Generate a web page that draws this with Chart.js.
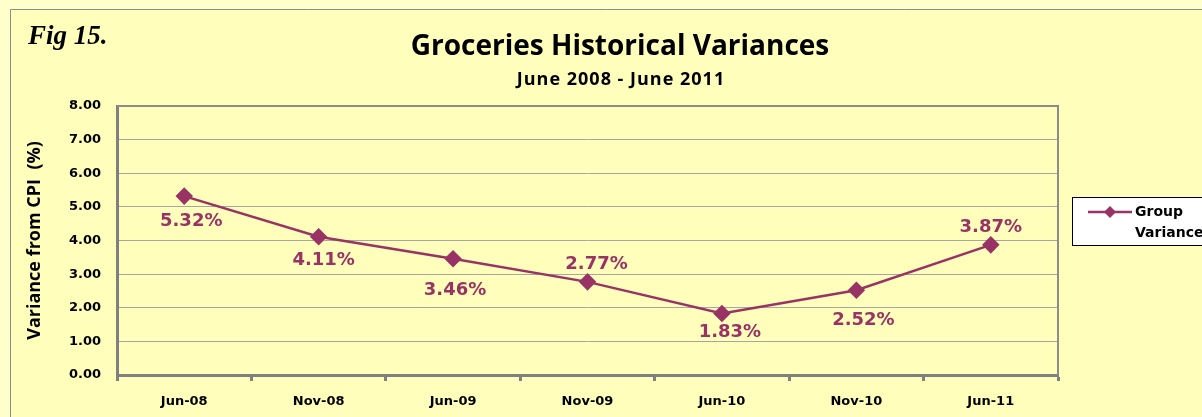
<!DOCTYPE html>
<html lang="en">
<head>
  <meta charset="UTF-8" />
  <title>Groceries Historical Variances</title>
  <style>
    html, body { margin: 0; padding: 0; background: #ffffcc; }
    .wrap { width: 1202px; height: 417px; position: relative; }
  </style>
</head>
<body>
  <div class="wrap">
    <canvas id="chart" width="1202" height="417"></canvas>
  </div>

  <script src="https://cdn.jsdelivr.net/npm/chart.js"></script>
  <script>
    // data
    const categories = ['Jun-08', 'Nov-08', 'Jun-09', 'Nov-09', 'Jun-10', 'Nov-10', 'Jun-11'];
    const variance = [5.32, 4.11, 3.46, 2.77, 1.83, 2.52, 3.87];
    const yTicks = [0, 1, 2, 3, 4, 5, 6, 7, 8];

    // where each % label sits relative to its point (px)
    const labelDx = [7, 5, 2, 9, 8, 7, 0];
    const labelDy = [25, 24, 32, -18, 19, 30, -18];

    const plum = '#993366';
    const headFont = '"Open Sans", sans-serif';
    const bodyFont = '"DejaVu Sans", Verdana, sans-serif';

    const decor = {
      id: 'decor',
      beforeDraw(chart) {
        const c = chart.ctx;
        c.save();
        c.fillStyle = '#ffffcc';
        c.fillRect(0, 0, chart.width, chart.height);
        c.fillStyle = '#ffffbb';
        c.fillRect(10, 9, chart.width, chart.height);
        c.strokeStyle = '#8c8c8c';
        c.lineWidth = 1;
        c.beginPath();
        c.moveTo(10.5, chart.height);
        c.lineTo(10.5, 9.5);
        c.lineTo(chart.width, 9.5);
        c.stroke();
        c.restore();
      },
      afterDraw(chart) {
        const c = chart.ctx;
        const a = chart.chartArea;
        c.save();
        // top / right plot border
        c.strokeStyle = '#8c8c8c';
        c.lineWidth = 2;
        c.beginPath();
        c.moveTo(a.left, a.top);
        c.lineTo(a.right, a.top);
        c.lineTo(a.right, a.bottom);
        c.stroke();

        // fig number
        c.fillStyle = '#000';
        c.font = 'italic bold 27px "Liberation Serif", serif';
        c.textBaseline = 'alphabetic';
        c.textAlign = 'left';
        c.fillText('Fig 15.', 28, 44);

        // titles
        c.textAlign = 'center';
        c.font = 'bold 28px ' + headFont;
        c.fillText('Groceries Historical Variances', 620, 55);
        c.font = 'bold 18px ' + headFont;
        c.letterSpacing = '1px';
        c.fillText('June 2008 - June 2011', 621, 85);
        c.letterSpacing = '0px';

        // value labels
        const meta = chart.getDatasetMeta(0);
        c.fillStyle = plum;
        c.font = 'bold 18px ' + bodyFont;
        c.textBaseline = 'middle';
        meta.data.forEach((pt, i) => {
          c.fillText(variance[i].toFixed(2) + '%', pt.x + labelDx[i], pt.y + labelDy[i]);
        });

        // legend box
        c.fillStyle = '#ffffff';
        c.fillRect(1072, 197, 140, 48);
        c.strokeStyle = '#000';
        c.lineWidth = 1;
        c.strokeRect(1072.5, 197.5, 140, 48);
        c.strokeStyle = plum;
        c.lineWidth = 2.5;
        c.beginPath();
        c.moveTo(1088, 212);
        c.lineTo(1132, 212);
        c.stroke();
        c.fillStyle = plum;
        c.beginPath();
        c.moveTo(1110, 206);
        c.lineTo(1116, 212);
        c.lineTo(1110, 218);
        c.lineTo(1104, 212);
        c.closePath();
        c.fill();
        c.fillStyle = '#000';
        c.font = 'bold 14px ' + bodyFont;
        c.textAlign = 'left';
        c.fillText('Group', 1135, 212);
        c.fillText('Variance', 1135, 233);
        c.restore();
      }
    };

    new Chart(document.getElementById('chart'), {
      type: 'line',
      data: {
        labels: categories,
        datasets: [{
          label: 'Group Variance',
          data: variance,
          borderColor: plum,
          backgroundColor: plum,
          borderWidth: 2.5,
          pointStyle: 'rectRot',
          pointRadius: 7,
          pointHoverRadius: 7,
          tension: 0
        }]
      },
      options: {
        responsive: false,
        animation: false,
        events: [],
        layout: { padding: { left: 24, top: 106, right: 144, bottom: 0 } },
        plugins: {
          legend: { display: false },
          tooltip: { enabled: false }
        },
        scales: {
          x: {
            offset: true,
            grid: {
              offset: true,
              drawOnChartArea: false,
              drawTicks: true,
              tickLength: 6,
              tickWidth: 3,
              tickColor: '#808080'
            },
            border: { color: '#808080', width: 3 },
            ticks: { color: '#000', font: { family: bodyFont, weight: 'bold', size: 13 }, padding: 13 },
            afterFit(s) { s.height = 42; }
          },
          y: {
            min: 0,
            max: 8,
            afterBuildTicks(s) { s.ticks = yTicks.map(v => ({ value: v })); },
            grid: { color: '#a6a6a6', lineWidth: 1, drawTicks: false },
            border: { color: '#808080', width: 3 },
            ticks: {
              color: '#000',
              font: { family: bodyFont, weight: 'bold', size: 13 },
              padding: 16,
              callback: v => Number(v).toFixed(2)
            },
            title: {
              display: true,
              text: 'Variance from CPI  (%)',
              color: '#000',
              font: { family: headFont, weight: 'bold', size: 18 },
              padding: { top: 0, bottom: 6 }
            },
            afterFit(s) { s.width = 93; }
          }
        }
      },
      plugins: [decor]
    });
  </script>
</body>
</html>
